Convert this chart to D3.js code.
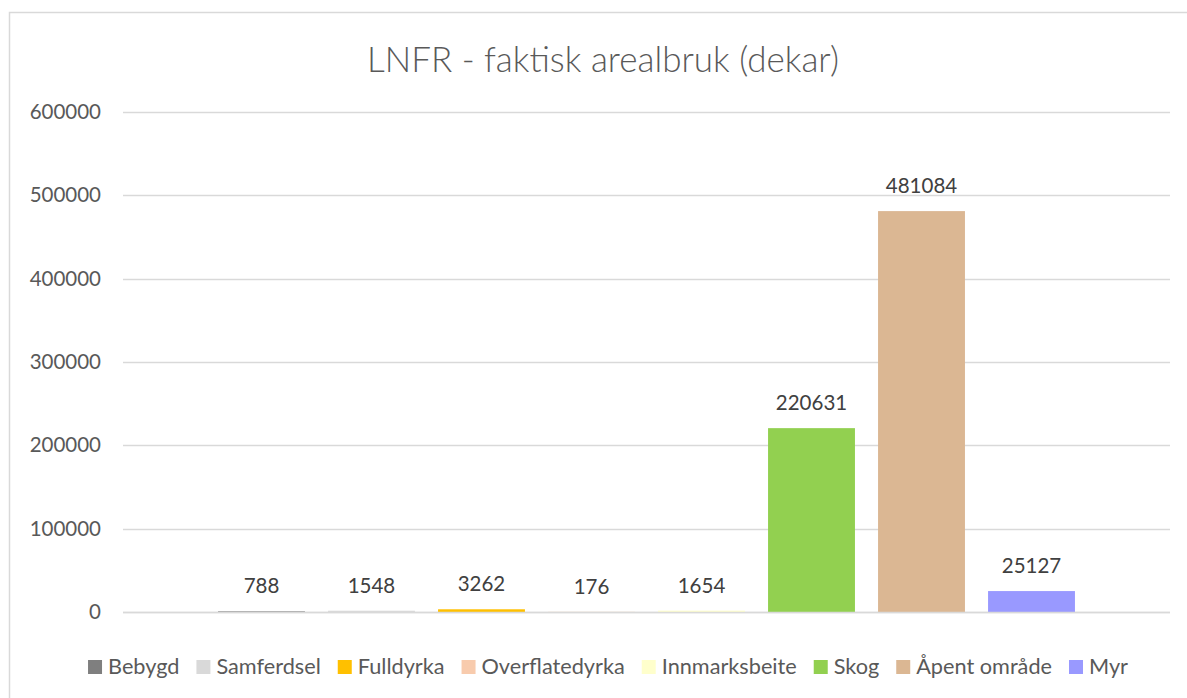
<!DOCTYPE html>
<html>
<head>
<meta charset="utf-8">
<script src="https://cdn.jsdelivr.net/npm/d3@7"></script>
<style>
    body { margin: 0; background: #ffffff; }
    text { font-family: Lato, "Open Sans", sans-serif; }
</style>
</head>
<body>
<div id="chart"></div>
<script>
const seriesNames = ["Bebygd", "Samferdsel", "Fulldyrka", "Overflatedyrka", "Innmarksbeite", "Skog", "Åpent område", "Myr"];
const seriesValues = [788, 1548, 3262, 176, 1654, 220631, 481084, 25127];
const seriesColors = ["#7f7f7f", "#d9d9d9", "#ffc000", "#f8cbad", "#ffffcc", "#92d050", "#dbb793", "#9999ff"];
const yTicks = [0, 100000, 200000, 300000, 400000, 500000, 600000];

const width = 1187, height = 698;
const plotLeft = 123, plotRight = 1170, plotTop = 112, plotBottom = 612;

const svg = d3.select("#chart")
    .append("svg")
    .attr("width", width)
    .attr("height", height);

// chart frame
svg.append("rect")
    .attr("x", 9.5)
    .attr("y", 12.5)
    .attr("width", 1200)
    .attr("height", 700)
    .style("fill", "#ffffff")
    .style("stroke", "#d9d9d9")
    .style("stroke-width", 1.5);

const data = seriesNames.map((name, i) => ({ name: name, value: seriesValues[i], color: seriesColors[i] }));

const x = d3.scaleBand()
    .domain(seriesNames)
    .range([plotLeft, plotRight])
    .paddingInner(0.21)
    .paddingOuter(0.864);

const y = d3.scaleLinear()
    .domain([0, 600000])
    .range([plotBottom, plotTop]);

// gridlines
svg.append("g")
    .selectAll("line")
    .data(yTicks)
    .enter().append("line")
    .attr("x1", plotLeft)
    .attr("x2", plotRight)
    .attr("y1", d => Math.round(y(d)) + 0.5)
    .attr("y2", d => Math.round(y(d)) + 0.5)
    .style("stroke", "#d9d9d9")
    .style("stroke-width", 1.5);

// y axis labels
const yAxis = d3.axisLeft(y)
    .tickValues(yTicks)
    .tickSize(0)
    .tickPadding(22)
    .tickFormat(d3.format("d"));

const yAxisG = svg.append("g")
    .attr("transform", "translate(" + plotLeft + ",0)")
    .call(yAxis);
yAxisG.select(".domain").remove();
yAxisG.selectAll("text")
    .style("font-family", "Lato, sans-serif")
    .style("font-size", "20.5px")
    .style("fill", "#595959");

// bars
svg.append("g")
    .selectAll("rect")
    .data(data)
    .enter().append("rect")
    .attr("x", d => x(d.name))
    .attr("width", x.bandwidth())
    .attr("y", d => y(d.value))
    .attr("height", d => y(0) - y(d.value))
    .style("fill", d => d.color);

// axis line on top of bars
svg.append("line")
    .attr("x1", plotLeft)
    .attr("x2", plotRight)
    .attr("y1", Math.round(y(0)) + 0.5)
    .attr("y2", Math.round(y(0)) + 0.5)
    .style("stroke", "#d9d9d9")
    .style("stroke-width", 1.5);

// data labels
svg.append("g")
    .selectAll("text")
    .data(data)
    .enter().append("text")
    .attr("x", d => x(d.name) + x.bandwidth() / 2)
    .attr("y", d => y(d.value) - 18)
    .attr("text-anchor", "middle")
    .style("font-size", "20.5px")
    .style("fill", "#404040")
    .text(d => d.value);

// title
svg.append("text")
    .attr("x", 603)
    .attr("y", 72)
    .attr("text-anchor", "middle")
    .style("font-size", "35px")
    .style("font-weight", 300)
    .style("fill", "#595959")
    .text("LNFR - faktisk arealbruk (dekar)");

// legend
const legend = svg.append("g");
const items = legend.selectAll("g")
    .data(data)
    .enter().append("g");
items.append("rect")
    .attr("width", 14)
    .attr("height", 14)
    .attr("y", -14)
    .style("fill", d => d.color);
items.append("text")
    .attr("x", 20)
    .attr("y", 0)
    .style("font-size", "21.7px")
    .style("fill", "#595959")
    .text(d => d.name);

let offset = 0;
items.each(function(d) {
    const w = d3.select(this).select("text").node().getComputedTextLength();
    d3.select(this).attr("transform", "translate(" + offset + ",0)");
    offset += 20 + w + 17;
});
const legendWidth = offset - 17;
legend.attr("transform", "translate(" + (608 - legendWidth / 2) + ",674)");
</script>
</body>
</html>
